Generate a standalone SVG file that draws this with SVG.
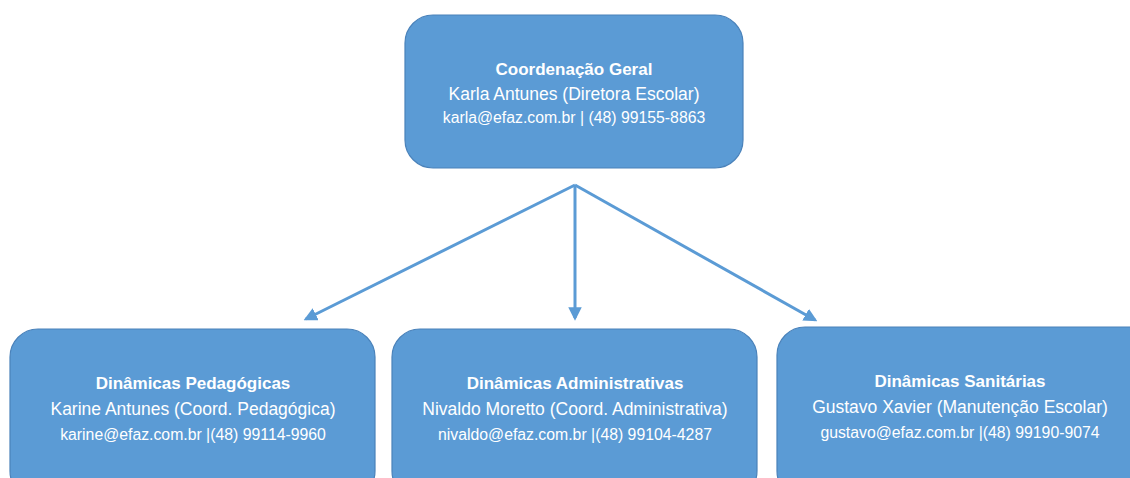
<svg xmlns="http://www.w3.org/2000/svg" width="1130" height="478" viewBox="0 0 1130 478">
<style>
.box{fill:#5B9BD5;stroke:#4A82BA;stroke-width:1.2}
text{font-family:"Liberation Sans",Arial,sans-serif;fill:#FFFFFF;text-anchor:middle}
.t{font-weight:bold;font-size:17px}
.n{font-size:17.5px}
.e{font-size:15.8px}
.c{stroke:#5B9BD5;stroke-width:3;fill:none;marker-end:url(#ah)}
</style>
<defs>
<marker id="ah" viewBox="0 0 10 10" refX="8" refY="5" markerWidth="4.5" markerHeight="4.5" orient="auto" markerUnits="strokeWidth">
<path d="M0,0 L10,5 L0,10 z" fill="#5B9BD5"/>
</marker>
</defs>
<rect width="1130" height="478" fill="#FFFFFF"/>
<g id="connectors">
<line class="c" x1="575" y1="185" x2="306" y2="319"/>
<line class="c" x1="575" y1="185" x2="575" y2="318"/>
<line class="c" x1="575" y1="185" x2="815" y2="320"/>
</g>
<g id="node-coord">
<rect class="box" x="405" y="15" width="338" height="153" rx="28"/>
<text class="t" x="574" y="75">Coordenação Geral</text>
<text class="n" x="574" y="100">Karla Antunes (Diretora Escolar)</text>
<text class="e" x="574" y="123">karla@efaz.com.br | (48) 99155-8863</text>
</g>
<g id="node-ped">
<rect class="box" x="10" y="329" width="365" height="170" rx="28"/>
<text class="t" x="193" y="389">Dinâmicas Pedagógicas</text>
<text class="n" x="193" y="415">Karine Antunes (Coord. Pedagógica)</text>
<text class="e" x="193" y="440">karine@efaz.com.br |(48) 99114-9960</text>
</g>
<g id="node-adm">
<rect class="box" x="392" y="329" width="365" height="170" rx="28"/>
<text class="t" x="575" y="389">Dinâmicas Administrativas</text>
<text class="n" x="575" y="415">Nivaldo Moretto (Coord. Administrativa)</text>
<text class="e" x="575" y="440">nivaldo@efaz.com.br |(48) 99104-4287</text>
</g>
<g id="node-san">
<rect class="box" x="777" y="327" width="380" height="172" rx="28"/>
<text class="t" x="960" y="387">Dinâmicas Sanitárias</text>
<text class="n" x="960" y="413">Gustavo Xavier (Manutenção Escolar)</text>
<text class="e" x="960" y="438">gustavo@efaz.com.br |(48) 99190-9074</text>
</g>
</svg>
